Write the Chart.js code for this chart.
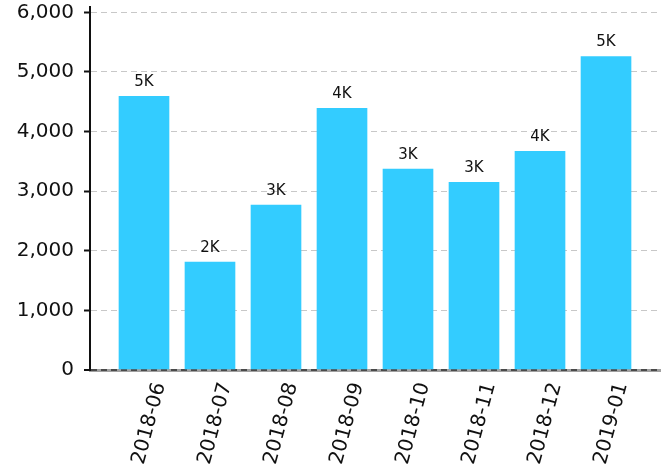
<!DOCTYPE html>
<html>
<head>
<meta charset="utf-8">
<script src="https://cdn.jsdelivr.net/npm/chart.js@4/dist/chart.umd.min.js"></script>
<style>
  html, body { margin: 0; padding: 0; background: #ffffff; }
  #wrap { width: 671px; height: 470px; }
</style>
</head>
<body>
<div id="wrap"><canvas id="c" width="671" height="470"></canvas></div>
<script>
// Monthly totals
const months = ['2018-06', '2018-07', '2018-08', '2018-09', '2018-10', '2018-11', '2018-12', '2019-01'];
const totals = [4590, 1810, 2765, 4390, 3370, 3150, 3670, 5260];
const yTicks = [0, 1000, 2000, 3000, 4000, 5000, 6000];

const FONT = "'DejaVu Sans', sans-serif";

// Short "NK" labels above each bar, computed from the bar value
const barLabels = {
  id: 'barLabels',
  afterDatasetsDraw(chart) {
    const ctx = chart.ctx;
    const meta = chart.getDatasetMeta(0);
    ctx.save();
    ctx.font = '15px ' + FONT;
    ctx.fillStyle = '#111111';
    ctx.textAlign = 'center';
    ctx.textBaseline = 'middle';
    meta.data.forEach((bar, i) => {
      const text = Math.round(totals[i] / 1000) + 'K';
      ctx.fillText(text, bar.x, bar.y - 14);
    });
    ctx.restore();
  }
};

new Chart(document.getElementById('c'), {
  type: 'bar',
  data: {
    datasets: [{
      data: totals.map((v, i) => ({ x: i, y: v })),
      backgroundColor: '#33ccff',
      borderWidth: 0,
      barThickness: 50
    }]
  },
  options: {
    responsive: false,
    animation: false,
    layout: { padding: { top: 7, right: 11, left: 0, bottom: 0 } },
    plugins: { legend: { display: false }, tooltip: { enabled: false } },
    scales: {
      x: {
        type: 'linear',
        offset: false,
        min: -0.818,
        max: months.length - 1 + 0.818,
        afterBuildTicks(scale) {
          scale.ticks = months.map((_, i) => ({ value: i }));
        },
        afterFit(scale) {
          scale.height = 100;
          scale.paddingLeft = 0;
          scale.paddingRight = 0;
        },
        // invisible vertical grid; its layer runs first so the base line position is known
        grid: { display: true, drawOnChartArea: false, drawTicks: false, color: 'rgba(0,0,0,0)', z: -3 },
        // solid grey base line, drawn underneath the dashed zero line
        border: { display: true, color: '#a0a0a0', width: 3, z: -2 },
        ticks: {
          autoSkip: false,
          minRotation: 75,
          maxRotation: 75,
          padding: 10,
          labelOffset: 16,
          color: '#111111',
          font: { family: FONT, size: 20 },
          callback: (v) => months[Math.round(v)]
        }
      },
      y: {
        min: 0,
        max: 6090,
        afterBuildTicks(scale) {
          scale.ticks = yTicks.map(v => ({ value: v }));
        },
        afterFit(scale) {
          scale.width = 90;
          scale.paddingTop = 0;
          scale.paddingBottom = 0;
        },
        grid: {
          color: (c) => (c.tick && c.tick.value === 0) ? '#4a4a4a' : '#c8c8c8',
          lineWidth: (c) => (c.tick && c.tick.value === 0) ? 2 : 1,
          tickLength: 6,
          tickColor: '#111111',
          tickWidth: 2,
          tickBorderDash: []
        },
        border: { display: true, color: '#111111', width: 2, dash: [6, 4] },
        ticks: {
          padding: 10,
          color: '#111111',
          font: { family: FONT, size: 20 },
          callback: (v) => v.toLocaleString('en-US')
        }
      }
    }
  },
  plugins: [barLabels]
});
</script>
</body>
</html>
